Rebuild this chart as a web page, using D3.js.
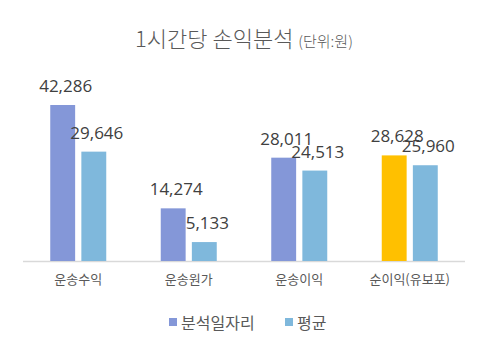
<!DOCTYPE html>
<html><head><meta charset="utf-8">
<script src="https://cdn.jsdelivr.net/npm/d3@7"></script>
<style>body{margin:0;background:#fff;}svg{display:block;}</style>
</head><body>
<svg id="c" width="487" height="351"></svg>
<script>
const categories = ["운송수익", "운송원가", "운송이익", "순이익(유보포)"];
const seriesNames = ["분석일자리", "평균"];
const analysis = [42286, 14274, 28011, 28628];
const average = [29646, 5133, 24513, 25960];
const seriesColors = ["#8497d8", "#7fb8dc"];
const highlightColor = "#ffc000";

const svg = d3.select("#c");
const baseY = 261;
const x0 = d3.scaleBand().domain(categories).range([23, 465]).paddingInner(0).paddingOuter(0);
const y = d3.scaleLinear().domain([0, 45000]).range([baseY, baseY - 166]);
const x1 = d3.scaleBand().domain(seriesNames).range([x0.bandwidth()/2 - 28, x0.bandwidth()/2 + 28]).paddingInner(0.2).paddingOuter(0);

const font = "'Noto Sans CJK KR', 'Noto Sans', sans-serif";
const numFont = "'Open Sans', 'Noto Sans', sans-serif";

// title
const t = svg.append("text").attr("x", 244).attr("y", 47).attr("text-anchor", "middle")
  .attr("font-family", font).attr("font-weight", 300).attr("fill", "#595959");
t.append("tspan").attr("font-size", 22).text("1시간당 손익분석 ");
t.append("tspan").attr("font-size", 15).text("(단위:원)");

// axis line
svg.append("line").attr("x1", 23).attr("x2", 465).attr("y1", baseY + 0.5).attr("y2", baseY + 0.5)
  .attr("stroke", "#d9d9d9").attr("stroke-width", 1.5);

const data = seriesNames.map((s, i) => ({name: s, values: i === 0 ? analysis : average}));

data.forEach((s, si) => {
  const g = svg.append("g");
  categories.forEach((c, ci) => {
    const v = s.values[ci];
    const bx = x0(c) + x1(s.name);
    const col = (si === 0 && ci === 3) ? highlightColor : seriesColors[si];
    g.append("rect").attr("x", bx).attr("y", y(v)).attr("width", x1.bandwidth())
      .attr("height", baseY - y(v)).attr("fill", col);
    g.append("text").attr("x", bx + x1.bandwidth()/2 + 3).attr("y", y(v) - 13)
      .attr("text-anchor", "middle").attr("font-family", numFont).attr("font-size", 17)
      .attr("fill", "#404040").text(d3.format(",")(v));
  });
});

// category labels
const xAxis = d3.axisBottom(x0).tickSize(0).tickPadding(14);
const ax = svg.append("g").attr("transform", `translate(0,${baseY})`).call(xAxis);
ax.select(".domain").remove();
ax.selectAll("text").attr("font-family", font).attr("font-size", 13).attr("fill", "#595959");

// legend
const leg = svg.append("g");
const legItems = [{name: seriesNames[0], x: 169}, {name: seriesNames[1], x: 285}];
legItems.forEach((d, i) => {
  leg.append("rect").attr("x", d.x).attr("y", 318).attr("width", 8).attr("height", 8).attr("fill", seriesColors[i]);
  leg.append("text").attr("x", d.x + 12).attr("y", 329).attr("font-family", font).attr("font-size", 16)
    .attr("fill", "#595959").text(d.name);
});
</script>
</body></html>
